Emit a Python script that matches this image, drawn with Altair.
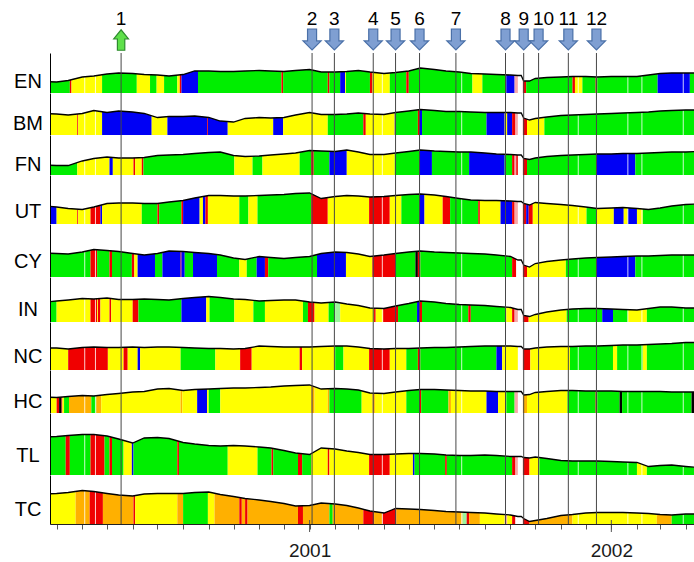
import altair as alt
import pandas as pd

# ---------------- data ----------------
ROWS = ["EN", "BM", "FN", "UT", "CY", "IN", "NC", "HC", "TL", "TC"]

DATES = ["2000-02-15", "2000-03-01", "2000-03-15", "2000-04-01", "2000-04-15", "2000-05-01", "2000-05-15",
         "2000-06-01", "2000-06-15", "2000-07-01", "2000-07-15", "2000-08-01", "2000-08-15", "2000-09-01",
         "2000-09-15", "2000-10-01", "2000-10-15", "2000-11-01", "2000-11-15", "2000-12-01", "2000-12-15",
         "2001-01-01", "2001-01-15", "2001-02-01", "2001-02-15", "2001-03-01", "2001-03-15", "2001-04-01",
         "2001-04-15", "2001-05-01", "2001-05-15", "2001-06-01", "2001-06-15", "2001-07-01", "2001-07-15",
         "2001-08-01", "2001-08-15", "2001-09-01", "2001-09-10", "2001-09-14", "2001-09-17", "2001-09-24",
         "2001-10-01", "2001-10-15", "2001-11-01", "2001-11-15", "2001-12-01", "2001-12-15", "2002-01-01",
         "2002-01-15", "2002-02-01", "2002-02-15", "2002-03-01", "2002-03-15", "2002-04-01", "2002-04-15"]

EN_VALUES = [11.5, 11, 12.5, 16, 17, 19, 20, 19.5, 18.5, 18, 17, 18.5, 22, 22, 21.5, 21.5, 22, 22.5, 22, 21.5,
             22.5, 23.5, 21, 21, 21.5, 22.5, 21, 19.5, 20.5, 22, 25, 23.5, 22, 21, 19.5, 19, 18.5, 18, 17.5, 17.5,
             12, 12, 14.5, 15.5, 16, 16.5, 16.5, 16, 16.5, 16.5, 16.5, 18, 19.5, 20, 20, 20]
BM_VALUES = [21.5, 21, 20, 21.5, 24.5, 22.5, 24, 23, 21.5, 17.5, 18.5, 18.5, 19, 17.5, 14, 13, 16.5, 17.5, 17, 17.5,
             20, 22.5, 20.5, 20.5, 21, 22, 21, 20.5, 22.5, 24, 25.5, 24.5, 23.5, 23.5, 23, 22.5, 22.5, 22.5, 22, 22,
             17, 15, 16.5, 18, 19.5, 20, 20.5, 21, 21.5, 22, 22.5, 23, 24, 24.5, 25, 25]
FN_VALUES = [10, 9.5, 9.5, 14, 16.5, 18, 17, 17, 17.5, 19.5, 20, 20.5, 21.5, 22.5, 23, 19.5, 18.5, 19, 20, 21,
             22, 24.5, 24, 23.5, 25, 23, 20.5, 20.5, 22, 23.5, 25, 24, 23.5, 23, 23, 22, 21, 20.5, 20, 20,
             16.5, 15.5, 17, 18.5, 19.5, 20, 20.5, 21, 21, 21.5, 21.5, 22, 22.5, 23, 23, 23.5]
UT_VALUES = [18, 17, 15.5, 14.5, 17, 20.5, 21, 21, 20.5, 20.5, 22, 23.5, 26, 28.5, 28.5, 28, 28, 28.5, 29, 29.5,
             30.5, 31, 25.5, 27.5, 28.5, 28, 27, 27.5, 28.5, 29.5, 30, 29, 27.5, 25.5, 24, 23.5, 23.5, 23, 22.5, 22.5,
             20.5, 19, 21.5, 20.5, 19.5, 18.5, 17, 15.5, 16, 16.5, 15.5, 14.5, 16, 18, 19.5, 20]
CY_VALUES = [24, 23.5, 23, 25, 27.5, 26.5, 25.5, 23.5, 22, 23.5, 26, 25.5, 24.5, 23.5, 22, 19, 17.5, 20.5, 19.5, 18.5,
             19.5, 20.5, 23.5, 25, 24.5, 23, 20.5, 22, 23.5, 25, 26, 25, 24.5, 24, 23.5, 23, 22, 20.5, 17, 17,
             12, 10, 13.5, 15.5, 17, 18, 19, 19.5, 20, 20.5, 21, 21, 21.5, 22, 22, 22]
IN_VALUES = [20, 21, 22, 23.5, 23, 24, 22.5, 22.5, 23, 22.5, 22, 23.5, 24.5, 25.5, 24.5, 23, 22.5, 21, 21.5, 22,
             22, 20, 19, 20, 18, 16.5, 14, 13.5, 16, 18.5, 21, 20, 18.5, 17.5, 17, 16.5, 15.5, 14.5, 12.5, 12.5,
             6.5, 5.5, 7.5, 10, 12, 13, 13.5, 13.5, 13, 12.5, 12, 13.5, 15, 15, 14, 14]
NC_VALUES = [22, 22, 21, 22.5, 23, 22.5, 22.5, 23, 22.5, 23, 23, 22.5, 22, 21.5, 21.5, 21, 21.5, 24, 23.5, 23,
             23, 23, 23.5, 24, 24, 23, 21.5, 21, 21.5, 21.5, 22, 22.5, 22.5, 23, 23.5, 24, 24, 24, 23.5, 23.5,
             21, 21, 22, 23, 23.5, 23.5, 24, 24, 24.5, 25, 25, 25.5, 26, 26.5, 27.5, 27.5]
HC_VALUES = [16, 15.5, 16.5, 17.5, 17, 18.5, 19.5, 21, 21.5, 24, 24.5, 22.5, 23.5, 24, 24.5, 25, 25, 25.5, 26, 27,
             27.5, 28, 24, 24.5, 24, 23, 20, 19.5, 21, 22.5, 23.5, 23.5, 23, 22.5, 22, 22, 21.5, 21.5, 21.5, 21.5,
             18, 18.5, 20.5, 21.5, 22.5, 22.5, 22, 22, 22, 21.5, 21.5, 21.5, 21.5, 21, 21, 21]
TL_VALUES = [38, 38.5, 39.5, 40.5, 40.5, 39, 36, 32, 37, 37.5, 36.5, 32.5, 31, 29.5, 29, 29.5, 29, 28, 27, 24.5,
             22, 20.5, 27, 26, 24, 22.5, 20.5, 20.5, 21, 21.5, 21.5, 21, 20, 19.5, 19.5, 20, 19.5, 18.5, 18.5, 18.5,
             17.5, 17, 18, 16.5, 14.5, 14, 14, 14, 13.5, 13, 12.5, 8.5, 9.5, 10, 8.5, 7.5]
TC_VALUES = [30, 30.5, 31.5, 33.5, 32.5, 30.5, 29, 28, 30, 30.5, 30.5, 30.5, 31.5, 32, 29.5, 27.5, 25.5, 24, 22.5, 20.5,
             18, 18.5, 21, 20, 18.5, 16, 13, 11, 15.5, 15, 14.5, 13.5, 12.5, 12, 11.5, 11, 10, 9, 7.5, 7.5,
             5.5, 2.5, 3.5, 5.5, 8.5, 9.5, 11, 11.5, 11.5, 11.5, 11, 10.5, 9.5, 9, 10, 10]

VALUES = {"EN": EN_VALUES, "BM": BM_VALUES, "FN": FN_VALUES, "UT": UT_VALUES, "CY": CY_VALUES,
          "IN": IN_VALUES, "NC": NC_VALUES, "HC": HC_VALUES, "TL": TL_VALUES, "TC": TC_VALUES}

# state segments: (start date, state); each runs until the next start
EN_SEGMENTS = [("2000-02-15", "G"), ("2000-03-17", "R"), ("2000-03-19", "Y"), ("2000-04-25", "G"),
               ("2000-06-06", "Y"), ("2000-06-22", "G"), ("2000-06-30", "Y"), ("2000-07-09", "G"),
               ("2000-07-25", "Y"), ("2000-07-28", "R"), ("2000-07-30", "B"), ("2000-08-19", "G"),
               ("2000-11-28", "R"), ("2000-11-30", "G"), ("2001-01-23", "R"), ("2001-01-25", "G"),
               ("2001-02-07", "B"), ("2001-02-13", "Y"), ("2001-02-14", "G"), ("2001-03-15", "R"),
               ("2001-03-18", "Y"), ("2001-04-08", "G"), ("2001-04-28", "R"), ("2001-05-01", "G"),
               ("2001-07-17", "Y"), ("2001-07-29", "G"), ("2001-08-27", "B"), ("2001-09-06", "P"),
               ("2001-09-10", "W"), ("2001-09-16", "R"), ("2001-09-20", "G"), ("2001-11-15", "R"),
               ("2001-11-18", "Y"), ("2001-11-27", "G"), ("2001-12-13", "R"), ("2001-12-15", "G"),
               ("2002-02-26", "B"), ("2002-04-06", "G")]
BM_SEGMENTS = [("2000-02-15", "Y"), ("2000-03-26", "R"), ("2000-03-27", "Y"), ("2000-04-25", "B"),
               ("2000-06-24", "Y"), ("2000-07-13", "B"), ("2000-08-30", "R"), ("2000-08-31", "B"),
               ("2000-09-24", "Y"), ("2000-11-18", "B"), ("2000-11-30", "Y"), ("2001-01-23", "G"),
               ("2001-03-07", "R"), ("2001-03-10", "Y"), ("2001-04-14", "B"), ("2001-04-15", "G"),
               ("2001-05-12", "R"), ("2001-05-14", "B"), ("2001-05-17", "G"), ("2001-08-03", "B"),
               ("2001-08-25", "Y"), ("2001-08-28", "B"), ("2001-09-03", "R"), ("2001-09-07", "P"),
               ("2001-09-10", "W"), ("2001-09-16", "R"), ("2001-09-21", "Y"), ("2001-10-12", "G")]
FN_SEGMENTS = [("2000-02-15", "G"), ("2000-03-26", "Y"), ("2000-05-04", "B"), ("2000-05-08", "Y"),
               ("2000-06-02", "R"), ("2000-06-04", "Y"), ("2000-06-12", "R"), ("2000-06-14", "G"),
               ("2000-10-02", "Y"), ("2000-10-24", "G"), ("2000-11-05", "Y"), ("2000-12-20", "G"),
               ("2001-01-03", "R"), ("2001-01-06", "G"), ("2001-01-25", "B"), ("2001-02-15", "Y"),
               ("2001-04-14", "G"), ("2001-05-14", "B"), ("2001-05-29", "G"), ("2001-07-13", "B"),
               ("2001-08-25", "G"), ("2001-09-03", "R"), ("2001-09-06", "P"), ("2001-09-08", "R"),
               ("2001-09-10", "W"), ("2001-09-16", "R"), ("2001-09-21", "G"), ("2001-12-14", "B"),
               ("2002-01-30", "G")]
UT_SEGMENTS = [("2000-02-15", "B"), ("2000-03-01", "Y"), ("2000-03-26", "R"), ("2000-03-27", "Y"),
               ("2000-04-11", "R"), ("2000-04-23", "B"), ("2000-04-25", "Y"), ("2000-06-12", "G"),
               ("2000-07-01", "R"), ("2000-07-03", "G"), ("2000-07-30", "R"), ("2000-08-01", "B"),
               ("2000-08-21", "Y"), ("2000-08-25", "B"), ("2000-08-28", "R"), ("2000-08-31", "Y"),
               ("2000-10-08", "G"), ("2000-10-19", "Y"), ("2000-10-30", "G"), ("2001-01-03", "R"),
               ("2001-01-23", "Y"), ("2001-03-14", "R"), ("2001-04-08", "Y"), ("2001-04-22", "G"),
               ("2001-05-14", "B"), ("2001-05-20", "Y"), ("2001-06-11", "R"), ("2001-06-20", "G"),
               ("2001-07-24", "R"), ("2001-07-26", "Y"), ("2001-08-20", "B"), ("2001-09-03", "R"),
               ("2001-09-06", "P"), ("2001-09-10", "W"), ("2001-09-16", "R"), ("2001-09-20", "B"),
               ("2001-09-23", "R"), ("2001-09-28", "Y"), ("2001-12-02", "G"), ("2001-12-14", "Y"),
               ("2002-01-04", "B"), ("2002-01-16", "Y"), ("2002-01-21", "B"), ("2002-02-01", "Y"),
               ("2002-02-08", "G")]
CY_SEGMENTS = [("2000-02-15", "G"), ("2000-04-11", "R"), ("2000-04-19", "G"), ("2000-05-04", "R"),
               ("2000-05-07", "G"), ("2000-05-31", "R"), ("2000-06-03", "Y"), ("2000-06-07", "B"),
               ("2000-06-28", "G"), ("2000-07-07", "B"), ("2000-07-29", "R"), ("2000-07-30", "B"),
               ("2000-08-03", "G"), ("2000-08-13", "B"), ("2000-09-11", "G"), ("2000-10-08", "Y"),
               ("2000-10-17", "G"), ("2000-10-29", "B"), ("2000-11-08", "R"), ("2000-11-12", "G"),
               ("2001-01-10", "B"), ("2001-02-14", "Y"), ("2001-03-18", "R"), ("2001-04-15", "G"),
               ("2001-05-09", "K"), ("2001-05-12", "R"), ("2001-05-15", "G"), ("2001-09-03", "R"),
               ("2001-09-08", "W"), ("2001-09-16", "R"), ("2001-09-21", "Y"), ("2001-11-07", "G"),
               ("2001-12-14", "B"), ("2002-01-30", "G")]
IN_SEGMENTS = [("2000-02-15", "G"), ("2000-03-01", "Y"), ("2000-04-11", "R"), ("2000-04-19", "Y"),
               ("2000-04-20", "R"), ("2000-04-23", "Y"), ("2000-05-04", "R"), ("2000-05-06", "Y"),
               ("2000-06-01", "R"), ("2000-06-08", "G"), ("2000-07-30", "B"), ("2000-08-29", "Y"),
               ("2000-09-02", "G"), ("2000-10-02", "Y"), ("2000-10-25", "G"), ("2000-11-08", "Y"),
               ("2000-12-24", "G"), ("2000-12-30", "R"), ("2001-01-07", "Y"), ("2001-01-24", "G"),
               ("2001-02-01", "L"), ("2001-02-07", "Y"), ("2001-03-20", "R"), ("2001-03-22", "Y"),
               ("2001-03-31", "R"), ("2001-04-18", "G"), ("2001-05-11", "B"), ("2001-05-14", "R"),
               ("2001-05-17", "G"), ("2001-07-12", "R"), ("2001-07-15", "G"), ("2001-08-27", "Y"),
               ("2001-09-03", "R"), ("2001-09-06", "P"), ("2001-09-10", "W"), ("2001-09-16", "R"),
               ("2001-09-23", "Y"), ("2001-11-08", "G"), ("2001-12-21", "B"), ("2002-01-03", "G"),
               ("2002-01-21", "Y"), ("2002-02-13", "G")]
NC_SEGMENTS = [("2000-02-15", "Y"), ("2000-03-15", "R"), ("2000-05-02", "Y"), ("2000-05-21", "R"),
               ("2000-05-26", "Y"), ("2000-06-07", "B"), ("2000-06-10", "Y"), ("2000-07-29", "G"),
               ("2000-09-09", "Y"), ("2000-10-09", "R"), ("2000-10-23", "Y"), ("2000-12-20", "R"),
               ("2000-12-23", "Y"), ("2001-02-01", "G"), ("2001-02-11", "Y"), ("2001-03-14", "R"),
               ("2001-04-08", "Y"), ("2001-04-28", "G"), ("2001-05-12", "R"), ("2001-05-15", "G"),
               ("2001-08-15", "B"), ("2001-08-22", "Y"), ("2001-09-10", "W"), ("2001-09-16", "R"),
               ("2001-09-25", "Y"), ("2001-11-12", "G"), ("2002-01-03", "Y"), ("2002-01-08", "G"),
               ("2002-02-08", "Y"), ("2002-02-13", "G")]
HC_SEGMENTS = [("2000-02-15", "Y"), ("2000-03-01", "R"), ("2000-03-04", "K"), ("2000-03-07", "R"),
               ("2000-03-08", "Y"), ("2000-03-10", "G"), ("2000-03-16", "O"), ("2000-04-12", "G"),
               ("2000-04-18", "O"), ("2000-04-24", "Y"), ("2000-07-29", "O"), ("2000-07-31", "Y"),
               ("2000-08-18", "B"), ("2000-08-30", "Y"), ("2000-09-01", "G"), ("2000-09-15", "Y"),
               ("2001-01-03", "O"), ("2001-01-07", "Y"), ("2001-01-23", "O"), ("2001-01-25", "G"),
               ("2001-03-05", "Y"), ("2001-03-18", "O"), ("2001-03-21", "Y"), ("2001-04-28", "G"),
               ("2001-05-14", "R"), ("2001-05-16", "G"), ("2001-06-18", "O"), ("2001-06-21", "Y"),
               ("2001-08-03", "B"), ("2001-08-17", "Y"), ("2001-08-27", "G"), ("2001-09-06", "P"),
               ("2001-09-10", "W"), ("2001-09-16", "O"), ("2001-09-21", "Y"), ("2001-11-09", "G"),
               ("2001-12-13", "R"), ("2001-12-15", "G"), ("2002-01-11", "K"), ("2002-01-14", "G"),
               ("2002-04-08", "K")]
TL_SEGMENTS = [("2000-02-15", "G"), ("2000-03-12", "R"), ("2000-03-17", "G"), ("2000-04-11", "R"),
               ("2000-04-28", "G"), ("2000-05-04", "R"), ("2000-05-07", "G"), ("2000-05-21", "Y"),
               ("2000-05-31", "B"), ("2000-06-02", "G"), ("2000-07-25", "R"), ("2000-07-27", "G"),
               ("2000-09-24", "Y"), ("2000-10-30", "G"), ("2000-11-16", "R"), ("2000-11-18", "G"),
               ("2000-12-18", "R"), ("2000-12-23", "G"), ("2001-01-03", "Y"), ("2001-01-23", "R"),
               ("2001-01-25", "Y"), ("2001-03-14", "R"), ("2001-04-08", "Y"), ("2001-05-06", "B"),
               ("2001-05-08", "G"), ("2001-06-14", "R"), ("2001-06-16", "G"), ("2001-09-03", "R"),
               ("2001-09-07", "P"), ("2001-09-10", "W"), ("2001-09-16", "R"), ("2001-09-24", "Y"),
               ("2001-10-06", "G"), ("2002-02-01", "Y"), ("2002-02-13", "G")]
TC_SEGMENTS = [("2000-02-15", "Y"), ("2000-03-24", "O"), ("2000-04-10", "R"), ("2000-04-26", "O"),
               ("2000-06-02", "R"), ("2000-06-04", "Y"), ("2000-07-25", "O"), ("2000-08-01", "G"),
               ("2000-08-31", "Y"), ("2000-09-08", "O"), ("2000-10-08", "R"), ("2000-10-11", "O"),
               ("2000-10-15", "R"), ("2000-10-18", "O"), ("2000-12-18", "R"), ("2000-12-24", "O"),
               ("2001-01-25", "G"), ("2001-01-29", "O"), ("2001-03-07", "R"), ("2001-03-20", "O"),
               ("2001-03-30", "R"), ("2001-04-16", "O"), ("2001-07-05", "L"), ("2001-07-10", "R"),
               ("2001-07-13", "O"), ("2001-07-26", "Y"), ("2001-08-25", "P"), ("2001-08-28", "Y"),
               ("2001-09-03", "R"), ("2001-09-07", "W"), ("2001-09-16", "R"), ("2001-09-24", "O"),
               ("2001-11-15", "Y"), ("2002-02-25", "O"), ("2002-03-15", "G")]
SEGMENTS = {"EN": EN_SEGMENTS, "BM": BM_SEGMENTS, "FN": FN_SEGMENTS, "UT": UT_SEGMENTS, "CY": CY_SEGMENTS,
            "IN": IN_SEGMENTS, "NC": NC_SEGMENTS, "HC": HC_SEGMENTS, "TL": TL_SEGMENTS, "TC": TC_SEGMENTS}
SERIES_END = "2002-04-15"

STATE_CODES = ["G", "Y", "B", "R", "O", "K", "P", "W", "L"]
STATE_COLORS = ["#00ee00", "#ffff00", "#0000f5", "#f00000", "#ffb000", "#000000", "#f7a8a8", "#ffffff", "#9cf59c"]

# event marker positions
EVENT_DATES = ["2000-05-18", "2001-01-04", "2001-01-31", "2001-03-19", "2001-04-15", "2001-05-14",
               "2001-06-27", "2001-08-26", "2001-09-17", "2001-10-05", "2001-11-10", "2001-12-14"]
EVENT_LABELS = ["1", "2", "3", "4", "5", "6", "7", "8", "9", "10", "11", "12"]
EVENT_DIR = ["up"] + ["down"] * 11

GAP_DATES = ["2000-04-04", "2000-04-17", "2001-03-30", "2001-07-04", "2001-11-22", "2002-01-21",
             "2002-02-07", "2002-03-29"]
YEAR_TICKS = ["2001-01-01", "2002-01-01"]

# ---------------- layout ----------------
W = 644
HEADER_H = 53
ROW_HEIGHTS = [40, 42, 40, 49, 53, 45, 48, 43, 62, 49]
LABEL_RAISE = [11.3, 11, 10, 12, 15, 12, 13, 10.7, 19, 14]
FONT = "Liberation Sans"

xscale = alt.Scale(type="utc",
                   domain=[alt.DateTime(year=2000, month=2, date=22, utc=True),
                           alt.DateTime(year=2002, month=4, date=11, utc=True)])

bottom_axis = alt.Axis(title=None, tickCount={"interval": "month", "step": 1},
                       labelExpr="utcFormat(datum.value, '%m') == '01' ? utcFormat(datum.value, '%Y') : ''",
                       labelOverlap=False, labelFlush=False, labelFont=FONT, labelFontSize=19,
                       labelColor="#1a1a1a", labelPadding=12, tickSize=5, tickColor="#555555",
                       domainColor="#222222", grid=False, zindex=1)
yaxis = alt.Axis(title=None, labels=False, ticks=False, grid=False, domain=True,
                 domainColor="#000000", domainWidth=1, zindex=1)


def xenc(field, axis):
    return alt.X(f"{field}:T", scale=xscale, axis=axis)


ev_df = pd.DataFrame({"date": EVENT_DATES, "label": EVENT_LABELS, "dir": EVENT_DIR})
gap_df = pd.DataFrame({"date": GAP_DATES})

DOWN_PATH = "M-0.43,-1 L0.43,-1 L0.43,0.14 L0.86,0.14 L0,1 L-0.86,0.14 L-0.43,0.14 Z"
UP_PATH = "M-0.36,1 L0.36,1 L0.36,-0.1 L0.72,-0.1 L0,-1 L-0.72,-0.1 L-0.36,-0.1 Z"

anchor = alt.Chart(pd.DataFrame({"a": [0]})).mark_rule(strokeOpacity=0).encode(
    x=alt.value(-50), y=alt.value(0), y2=alt.value(HEADER_H))
down = alt.Chart(ev_df).transform_filter("datum.dir == 'down'").mark_point(
    shape=DOWN_PATH, size=441, filled=True, fill="#7f9fd2", stroke="#4a70a8", strokeWidth=1.2, opacity=1
).encode(x=xenc("date", None), y=alt.value(39.5))
up = alt.Chart(ev_df).transform_filter("datum.dir == 'up'").mark_point(
    shape=UP_PATH, size=420, filled=True, fill="#5ee04a", stroke="#2e8b2e", strokeWidth=1.2, opacity=1
).encode(x=xenc("date", None), y=alt.value(40))
nums = alt.Chart(ev_df).transform_filter("datum.label != '10'").mark_text(
    font=FONT, fontSize=19, color="#000000", baseline="middle", align="center"
).encode(x=xenc("date", None), y=alt.value(18.5), text="label:N")
num10 = alt.Chart(ev_df).transform_filter("datum.label == '10'").mark_text(
    font=FONT, fontSize=19, color="#000000", baseline="middle", align="center", dx=5
).encode(x=xenc("date", None), y=alt.value(18.5), text="label:N")
header = alt.layer(anchor, down, up, nums, num10).properties(width=W, height=HEADER_H)


def make_row(i, name):
    H = ROW_HEIGHTS[i]
    last = i == len(ROWS) - 1
    axis = bottom_axis if last else None
    yscale = alt.Scale(domain=[0, H], nice=False, zero=True)
    seg = SEGMENTS[name]
    seg_df = pd.DataFrame({"start": [s[0] for s in seg],
                           "end": [s[0] for s in seg[1:]] + [SERIES_END],
                           "c": [s[1] for s in seg]})
    ser_df = pd.DataFrame({"date": DATES, "v": VALUES[name]})
    rects = alt.Chart(seg_df).mark_rect(clip=True, strokeWidth=0).encode(
        x=xenc("start", axis), x2="end:T", y=alt.value(0), y2=alt.value(H),
        color=alt.Color("c:N", scale=alt.Scale(domain=STATE_CODES, range=STATE_COLORS), legend=None))
    gaps = alt.Chart(gap_df).mark_rule(clip=True, color="#ffffff", strokeWidth=1, opacity=0.8).encode(
        x=xenc("date", axis), y=alt.value(0), y2=alt.value(H))
    mask = alt.Chart(ser_df).mark_area(clip=True, color="#ffffff", opacity=1).encode(
        x=xenc("date", axis), y=alt.Y("v:Q", scale=yscale, axis=yaxis), y2=alt.datum(H))
    line = alt.Chart(ser_df).mark_line(clip=True, color="#000000", strokeWidth=1.3).encode(
        x=xenc("date", axis), y=alt.Y("v:Q", scale=yscale, axis=yaxis))
    events = alt.Chart(ev_df).mark_rule(color="#474747", strokeWidth=1).encode(
        x=xenc("date", axis), y=alt.value(0), y2=alt.value(H))
    label = alt.Chart(pd.DataFrame({"t": [name]})).mark_text(
        font=FONT, fontSize=20, color="#000000", align="center", baseline="middle"
    ).encode(text="t:N", x=alt.value(-22), y=alt.value(H - LABEL_RAISE[i]))
    layers = [rects, gaps, mask, line, events, label]
    if last:
        yt = alt.Chart(pd.DataFrame({"date": YEAR_TICKS})).mark_rule(color="#555555", strokeWidth=1).encode(
            x=xenc("date", axis), y=alt.value(H - 4), y2=alt.value(H + 8))
        layers.append(yt)
    return alt.layer(*layers).properties(width=W, height=H)


rows = [make_row(i, n) for i, n in enumerate(ROWS)]

chart = alt.vconcat(header, *rows, spacing=0, bounds="flush").properties(
    padding=0, background="#ffffff"
).configure_view(strokeWidth=0)

chart.save("out.html", embed_options={"renderer": "svg", "actions": False})
